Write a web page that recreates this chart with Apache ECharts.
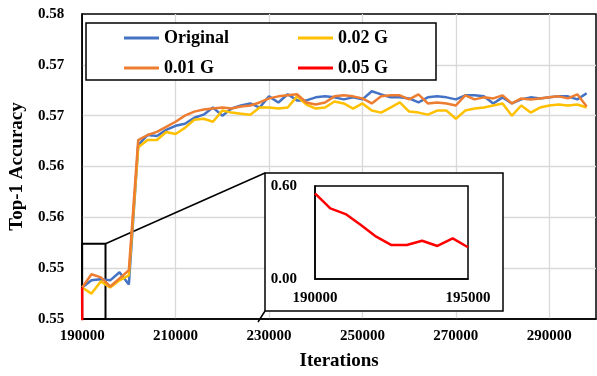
<!DOCTYPE html>
<html>
<head>
<meta charset="utf-8">
<script src="https://cdn.jsdelivr.net/npm/echarts@6/dist/echarts.min.js"></script>
<style>
html, body { margin: 0; padding: 0; background: #fff; }
#main { width: 597px; height: 376px; }
</style>
</head>
<body>
<div id="main"></div>
<script>
// x positions (iterations) for the three full-length runs
var iterations = [190000,192000,194000,196000,198000,200000,202000,204000,206000,208000,
    210000,212000,214000,216000,218000,220000,222000,224000,226000,228000,
    230000,232000,234000,236000,238000,240000,242000,244000,246000,248000,
    250000,252000,254000,256000,258000,260000,262000,264000,266000,268000,
    270000,272000,274000,276000,278000,280000,282000,284000,286000,288000,
    290000,292000,294000,296000,298000];

var original = [0.5531,0.5538,0.5539,0.5538,0.5546,0.5534,0.5671,0.5681,0.5680,0.5686,
    0.5690,0.5692,0.5698,0.5701,0.5708,0.5700,0.5707,0.5710,0.5712,0.5708,
    0.5719,0.5713,0.5721,0.5715,0.5715,0.5718,0.5719,0.5718,0.5716,0.5718,
    0.5716,0.5724,0.5721,0.5718,0.5718,0.5717,0.5713,0.5718,0.5719,0.5718,
    0.5716,0.5720,0.5720,0.5719,0.5712,0.5718,0.5712,0.5716,0.5718,0.5717,
    0.5718,0.5719,0.5719,0.5716,0.5722];

var g002 = [0.5531,0.5525,0.5537,0.5531,0.5538,0.5543,0.5669,0.5676,0.5676,0.5684,
    0.5682,0.5688,0.5696,0.5697,0.5694,0.5705,0.5703,0.5702,0.5701,0.5708,
    0.5708,0.5707,0.5708,0.5719,0.5711,0.5707,0.5708,0.5714,0.5712,0.5707,
    0.5712,0.5705,0.5703,0.5708,0.5713,0.5704,0.5703,0.5701,0.5705,0.5705,
    0.5697,0.5705,0.5707,0.5708,0.5710,0.5712,0.5700,0.5710,0.5703,0.5708,
    0.5710,0.5711,0.5710,0.5711,0.5708];

var g001 = [0.5531,0.5544,0.5541,0.5532,0.5540,0.5548,0.5676,0.5681,0.5684,0.5689,
    0.5694,0.5700,0.5704,0.5706,0.5707,0.5708,0.5707,0.5709,0.5710,0.5713,
    0.5717,0.5719,0.5720,0.5721,0.5713,0.5711,0.5713,0.5719,0.5720,0.5719,
    0.5717,0.5712,0.5719,0.5720,0.5720,0.5716,0.5721,0.5712,0.5713,0.5712,
    0.5710,0.5720,0.5716,0.5718,0.5717,0.5720,0.5712,0.5717,0.5716,0.5717,
    0.5718,0.5719,0.5717,0.5721,0.5709];

// 0.05 G only logged at the start (shown in the inset)
var redIterations = [190000,190500,191000,191500,192000,192500,193000,193500,194000,194500,195000];
var g005 = [0.5531,0.456,0.419,0.348,0.273,0.219,0.219,0.247,0.213,0.262,0.205];

var yTickLabels = ['0.55','0.55','0.56','0.56','0.57','0.57','0.58'];
var insetYLabels = ['0.00','0.60'];

function pairs(xs, ys) {
    return ys.map(function (v, i) { return [xs[i], v]; });
}

var FONT = '"Liberation Serif", "Times New Roman", serif';
var labelStyle = { color: '#000', fontFamily: FONT, fontWeight: 'bold', fontSize: 15 };
var legendText = { color: '#000', fontFamily: FONT, fontWeight: 'bold', fontSize: 18 };
var plain = function (v) { return String(v); };

var myChart = echarts.init(document.getElementById('main'));
var option = {
    animation: false,
    color: ['#4472C4', '#FFC000', '#ED7D31', '#FF0000'],
    grid: [
        { left: 81, right: 1, top: 14, bottom: 54, show: true, borderColor: '#000', borderWidth: 1.5 },
        { left: 315, right: 129, top: 186, bottom: 97, show: true, borderColor: '#000', borderWidth: 1.5, z: 3 }
    ],
    legend: [
        {
            data: ['Original', '0.01 G'], orient: 'vertical', left: 124, top: 29, padding: 0,
            icon: 'rect', itemWidth: 35, itemHeight: 3, itemGap: 12, z: 5, textStyle: legendText
        },
        {
            data: ['0.02 G', '0.05 G'], orient: 'vertical', left: 298, top: 29, padding: 0,
            icon: 'rect', itemWidth: 35, itemHeight: 3, itemGap: 12, z: 5, textStyle: legendText
        }
    ],
    xAxis: [
        {
            type: 'value', gridIndex: 0, min: 190000, max: 300000, interval: 20000,
            name: 'Iterations', nameLocation: 'middle', nameGap: 33,
            nameTextStyle: { color: '#000', fontFamily: FONT, fontWeight: 'bold', fontSize: 19 },
            axisLine: { lineStyle: { color: '#000', width: 1.5 } },
            axisTick: { show: false },
            axisLabel: Object.assign({ margin: 10, showMaxLabel: false, formatter: plain }, labelStyle),
            splitLine: { show: true, showMinLine: false, showMaxLine: false, lineStyle: { color: '#d9d9d9', width: 1.3 } }
        },
        {
            type: 'value', gridIndex: 1, min: 190000, max: 195000, interval: 5000, z: 3,
            axisLine: { lineStyle: { color: '#000', width: 1.5 } },
            axisTick: { show: false },
            axisLabel: Object.assign({ margin: 12, formatter: plain }, labelStyle),
            splitLine: { show: false }
        }
    ],
    yAxis: [
        {
            type: 'value', gridIndex: 0, min: 0.55, max: 0.58, interval: 0.005,
            name: 'Top-1 Accuracy', nameLocation: 'middle', nameGap: 52,
            nameTextStyle: { color: '#000', fontFamily: FONT, fontWeight: 'bold', fontSize: 19 },
            axisLine: { show: true, lineStyle: { color: '#000', width: 1.5 } },
            axisTick: { show: false },
            axisLabel: Object.assign({
                margin: 18,
                formatter: function (v, i) { return yTickLabels[i]; }
            }, labelStyle),
            splitLine: { show: true, showMinLine: false, showMaxLine: false, lineStyle: { color: '#d9d9d9', width: 1.3 } }
        },
        {
            type: 'value', gridIndex: 1, min: 0, max: 0.6, interval: 0.6, z: 3,
            axisLine: { show: true, lineStyle: { color: '#000', width: 1.5 } },
            axisTick: { show: false },
            axisLabel: Object.assign({
                margin: 18,
                formatter: function (v, i) { return insetYLabels[i]; }
            }, labelStyle),
            splitLine: { show: false }
        }
    ],
    series: [
        {
            name: 'Original', type: 'line', symbol: 'none', lineStyle: { width: 2.5 },
            data: pairs(iterations, original),
            markArea: {
                silent: true,
                itemStyle: { color: 'rgba(0,0,0,0)', borderColor: '#000', borderWidth: 2 },
                data: [[{ coord: [190000, 0.5574] }, { coord: [195000, 0.55] }]]
            }
        },
        { name: '0.02 G', type: 'line', symbol: 'none', lineStyle: { width: 2.5 }, data: pairs(iterations, g002) },
        { name: '0.01 G', type: 'line', symbol: 'none', lineStyle: { width: 2.5 }, data: pairs(iterations, g001) },
        { name: '0.05 G', type: 'line', symbol: 'none', lineStyle: { width: 2.5 }, data: pairs(redIterations, g005) },
        {
            name: '0.05 G', type: 'line', symbol: 'none', xAxisIndex: 1, yAxisIndex: 1, z: 4,
            lineStyle: { width: 2.5 }, data: pairs(redIterations, g005)
        }
    ]
};
myChart.setOption(option);

// zoom box, inset frame and the two connector lines
var corner = myChart.convertToPixel({ gridIndex: 0 }, [195000, 0.5574]);
myChart.setOption({
    graphic: [
        { type: 'rect', z: 1, shape: { x: 86, y: 23, width: 350, height: 57 },
          style: { fill: '#fff', stroke: '#000', lineWidth: 1.5 } },
        { type: 'rect', z: 1, shape: { x: 265, y: 173, width: 238, height: 138 },
          style: { fill: '#fff', stroke: '#000', lineWidth: 1.5 } },
        { type: 'line', z: 1, shape: { x1: corner[0], y1: corner[1], x2: 265, y2: 173 },
          style: { stroke: '#000', lineWidth: 1.5 } },
        { type: 'line', z: 1, shape: { x1: 258, y1: 322, x2: 265, y2: 311 },
          style: { stroke: '#000', lineWidth: 1.5 } }
    ]
});
</script>
</body>
</html>
